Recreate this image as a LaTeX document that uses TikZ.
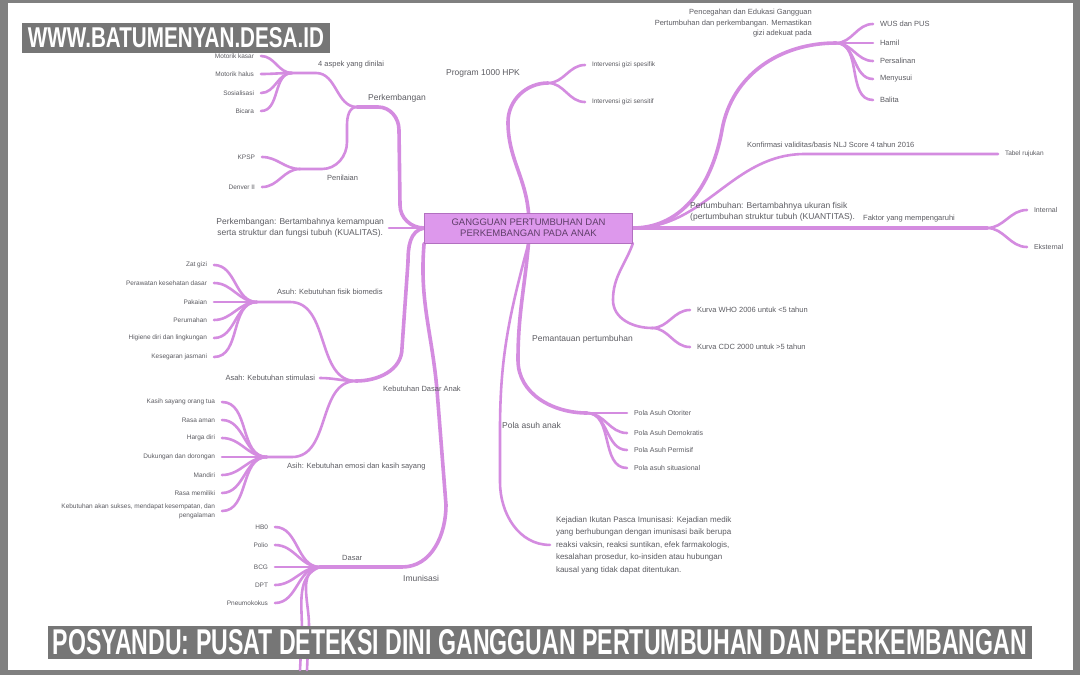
\documentclass[tikz,border=0pt]{standalone}
\usepackage{fontspec}
\setmainfont{Liberation Sans}
\usepackage{graphicx}
\pgfdeclarelayer{bg}
\pgfdeclarelayer{lines}
\pgfsetlayers{bg,lines,main}
\definecolor{lc}{RGB}{212,140,224}
\definecolor{boxc}{RGB}{221,152,236}
\definecolor{boxd}{RGB}{178,112,192}
\definecolor{tc}{RGB}{92,92,98}
\definecolor{rtc}{RGB}{95,62,105}
\definecolor{framegray}{RGB}{128,128,128}
\definecolor{bargray}{RGB}{118,118,118}
\newcommand{\fsz}[2]{\fontsize{#1}{#2}\selectfont}
\begin{document}
\begin{tikzpicture}[x=1pt,y=-1pt,
  ln/.style={draw=lc, line width=2.6pt, line cap=round},
  trunk/.style={draw=lc, line width=3.6pt, line cap=round},
  lbl/.style={text=tc, inner sep=0pt, font=\fsz{7.5}{10.5}},
  leaf/.style={text=tc, inner sep=0pt, outer xsep=7pt, font=\fsz{6.5}{9}},
  big/.style={text=tc, inner sep=0pt, font=\fsz{8.5}{11}},
  rootbox/.style={fill=boxc, draw=boxd, line width=0.8pt, minimum width=208pt,
    minimum height=30pt, align=center, inner sep=0pt, text=rtc, font=\fsz{9.5}{11}},
  bar/.style={fill=bargray, inner sep=0pt, text=white}]
\useasboundingbox (0,0) rectangle (1080,675);
\begin{pgfonlayer}{bg}
\fill[framegray] (0,0) rectangle (1080,675);
\fill[white] (8,3) rectangle (1073,670);
\end{pgfonlayer}

% root
\node[rootbox] (root) at (528.5,228) {GANGGUAN PERTUMBUHAN DAN\\PERKEMBANGAN PADA ANAK};

% ---------- left: Perkembangan
\coordinate (jPerk) at (357,107);
\coordinate (j4) at (292,73);
\coordinate (jPen) at (300,169);
\node[big, anchor=west] (perk) at (368,98) {Perkembangan};
\node[lbl, anchor=west] (asp) at (318,65) {4 aspek yang dinilai};
\node[lbl, anchor=west] (pen) at (327,178) {Penilaian};
\node[leaf, anchor=east] (m1) at (261,56) {Motorik kasar};
\node[leaf, anchor=east] (m2) at (261,74) {Motorik halus};
\node[leaf, anchor=east] (m3) at (261,93) {Sosialisasi};
\node[leaf, anchor=east] (m4) at (261,111) {Bicara};
\node[leaf, anchor=east] (p1) at (262,157) {KPSP};
\node[leaf, anchor=east] (p2) at (262,187) {Denver II};
\node[big, anchor=east, align=center, outer xsep=5pt] (pkdef) at (389,228)
  {Perkembangan: Bertambahnya kemampuan\\serta struktur dan fungsi tubuh (KUALITAS).};

% ---------- left: Kebutuhan Dasar Anak
\coordinate (jKD) at (356,381);
\coordinate (jAsuh) at (257,302);
\coordinate (jAsih) at (267,457);
\node[lbl, anchor=west] (kda) at (383,389) {Kebutuhan Dasar Anak};
\node[lbl, anchor=west] (asuh) at (277,292) {Asuh: Kebutuhan fisik biomedis};
\node[lbl, anchor=east, outer xsep=5pt] (asah) at (320,378) {Asah: Kebutuhan stimulasi};
\node[lbl, anchor=west] (asih) at (287,467) {Asih: Kebutuhan emosi dan kasih sayang};
\node[leaf, anchor=east] (a1) at (214,265) {Zat gizi};
\node[leaf, anchor=east] (a2) at (214,283) {Perawatan kesehatan dasar};
\node[leaf, anchor=east] (a3) at (214,302) {Pakaian};
\node[leaf, anchor=east] (a4) at (214,320) {Perumahan};
\node[leaf, anchor=east] (a5) at (214,338) {Higiene diri dan lingkungan};
\node[leaf, anchor=east] (a6) at (214,357) {Kesegaran jasmani};
\node[leaf, anchor=east] (s1) at (222,402) {Kasih sayang orang tua};
\node[leaf, anchor=east] (s2) at (222,420) {Rasa aman};
\node[leaf, anchor=east] (s3) at (222,438) {Harga diri};
\node[leaf, anchor=east] (s4) at (222,457) {Dukungan dan dorongan};
\node[leaf, anchor=east] (s5) at (222,475) {Mandiri};
\node[leaf, anchor=east] (s6) at (222,493) {Rasa memiliki};
\node[leaf, anchor=east, align=right] (s7) at (222,511)
  {Kebutuhan akan sukses, mendapat kesempatan, dan\\pengalaman};

% ---------- left: Imunisasi
\coordinate (jDas) at (320,567);
\node[big, anchor=west] (imu) at (403,578) {Imunisasi};
\node[lbl, anchor=west] (das) at (342,558) {Dasar};
\node[leaf, anchor=east] (d1) at (275,527) {HB0};
\node[leaf, anchor=east] (d2) at (275,545) {Polio};
\node[leaf, anchor=east] (d3) at (275,567) {BCG};
\node[leaf, anchor=east] (d4) at (275,585) {DPT};
\node[leaf, anchor=east] (d5) at (275,603) {Pneumokokus};
\coordinate (d6) at (307,670);
\coordinate (d7) at (300,670);

% ---------- right: Program 1000 HPK
\coordinate (jHPK) at (548,83);
\node[big, anchor=west] (hpk) at (446,73) {Program 1000 HPK};
\node[leaf, anchor=west] (h1) at (585,65) {Intervensi gizi spesifik};
\node[leaf, anchor=west] (h2) at (585,102) {Intervensi gizi sensitif};

% ---------- right: Pencegahan
\coordinate (jPE) at (836,43);
\node[lbl, anchor=east, align=right] (pe) at (812,23.5)
  {Pencegahan dan Edukasi Gangguan\\Pertumbuhan dan perkembangan. Memastikan\\gizi adekuat pada};
\node[leaf, anchor=west, font=\fsz{7.5}{9}] (e1) at (873,24) {WUS dan PUS};
\node[leaf, anchor=west, font=\fsz{7.5}{9}] (e2) at (873,43) {Hamil};
\node[leaf, anchor=west, font=\fsz{7.5}{9}] (e3) at (873,61) {Persalinan};
\node[leaf, anchor=west, font=\fsz{7.5}{9}] (e4) at (873,79) {Menyusui};
\node[leaf, anchor=west, font=\fsz{7.5}{9}] (e5) at (873,100) {Balita};

% ---------- right: Konfirmasi / Pertumbuhan
\node[lbl, anchor=west] (konf) at (747,145) {Konfirmasi validitas/basis NLJ Score 4 tahun 2016};
\node[leaf, anchor=west] (tab) at (998,154) {Tabel rujukan};
\coordinate (jFak) at (987,228);
\node[big, anchor=west, align=left] (pt) at (690,212)
  {Pertumbuhan: Bertambahnya ukuran fisik\\(pertumbuhan struktur tubuh (KUANTITAS).};
\node[lbl, anchor=west] (fak) at (863,219) {Faktor yang mempengaruhi};
\node[leaf, anchor=west, font=\fsz{7}{9}] (f1) at (1027,210) {Internal};
\node[leaf, anchor=west, font=\fsz{7}{9}] (f2) at (1027,247) {Eksternal};

% ---------- right: Pemantauan
\coordinate (jPem) at (652,328);
\node[big, anchor=west] (pem) at (532,339) {Pemantauan pertumbuhan};
\node[leaf, anchor=west, font=\fsz{7.5}{9}] (k1) at (690,310) {Kurva WHO 2006 untuk <5 tahun};
\node[leaf, anchor=west, font=\fsz{7.5}{9}] (k2) at (690,347) {Kurva CDC 2000 untuk >5 tahun};

% ---------- right: Pola asuh
\coordinate (jPola) at (587,413);
\node[big, anchor=west] (pola) at (502,425) {Pola asuh anak};
\node[leaf, anchor=west, font=\fsz{7}{9}] (o1) at (627,413) {Pola Asuh Otoriter};
\node[leaf, anchor=west, font=\fsz{7}{9}] (o2) at (627,433) {Pola Asuh Demokratis};
\node[leaf, anchor=west, font=\fsz{7}{9}] (o3) at (627,450) {Pola Asuh Permisif};
\node[leaf, anchor=west, font=\fsz{7}{9}] (o4) at (627,468) {Pola asuh situasional};

% ---------- KIPI
\node[lbl, anchor=north west, align=left, outer xsep=6pt, font=\fsz{8}{12.5}] (kipi) at (550,516)
  {Kejadian Ikutan Pasca Imunisasi: Kejadian medik\\yang berhubungan dengan imunisasi baik berupa\\reaksi vaksin, reaksi suntikan, efek farmakologis,\\kesalahan prosedur, ko-insiden atau hubungan\\kausal yang tidak dapat ditentukan.};

% ---------- banners
\node[bar, minimum width=308pt, minimum height=30pt] (wm) at (176,38)
  {\resizebox{296pt}{20pt}{\bfseries WWW.BATUMENYAN.DESA.ID}};
\node[bar, minimum width=984pt, minimum height=33pt] (title) at (540,642.5)
  {\resizebox{974pt}{25pt}{\bfseries POSYANDU: PUSAT DETEKSI DINI GANGGUAN PERTUMBUHAN DAN PERKEMBANGAN}};

% ================= connectors
\begin{pgfonlayer}{lines}
% Perkembangan
\draw[trunk] (jPerk) -- (378,107) to[out=0,in=90] (399,130) -- (400,205) to[out=270,in=180] (root.west);
\draw[ln] (j4) -- (316,73) to[out=0,in=180] (jPerk);
\draw[ln] (jPen) -- (322,169) to[out=0,in=270] (347,142) -- (347,125) to[out=90,in=180] (jPerk);
\foreach \n in {m1,m2,m3,m4} \draw[ln] (j4) to[out=180,in=0] (\n.east);
\foreach \n in {p1,p2} \draw[ln] (jPen) to[out=180,in=0] (\n.east);
\draw[ln] (pkdef.east) -- (root.west);
% Kebutuhan dasar
\draw[trunk] (root.west) to[out=190,in=90] (408,262) -- (402,348) to[out=270,in=0] (jKD);
\draw[ln] (jAsuh) -- (290,302) to[out=0,in=180] (jKD);
\draw[ln] (asah.east) to[out=0,in=180] (jKD);
\draw[ln] (jAsih) -- (292,457) to[out=0,in=180] (jKD);
\foreach \n in {a1,a2,a3,a4,a5,a6} \draw[ln] (jAsuh) to[out=180,in=0] (\n.east);
\foreach \n in {s1,s2,s3,s4,s5,s6,s7} \draw[ln] (jAsih) to[out=180,in=0] (\n.east);
% Imunisasi
\draw[trunk] (root.south west) to[out=265,in=95] (437,390) -- (446,505) to[out=270,in=0] (402,567) -- (jDas);
\foreach \n in {d1,d2,d3,d4,d5} \draw[ln] (jDas) to[out=180,in=0] (\n.east);
\draw[ln] (jDas) to[out=190,in=90] (309,625) -- (d6);
\draw[ln] (jDas) to[out=200,in=90] (302,630) -- (d7);
% Program 1000 HPK
\draw[trunk] (root.north) to[out=95,in=270] (508,122) to[out=90,in=180] (jHPK);
\foreach \n in {h1,h2} \draw[ln] (jHPK) to[out=0,in=180] (\n.west);
% Pencegahan
\draw[trunk] (root.east) to[out=0,in=260] (722,130) to[out=80,in=180] (jPE);
\foreach \n in {e1,e2,e3,e4,e5} \draw[ln] (jPE) to[out=0,in=180] (\n.west);
% Konfirmasi
\draw[ln] (root.east) to[out=0,in=180] (805,154) -- (tab.west);
% Pertumbuhan
\draw[trunk] (root.east) -- (jFak);
\foreach \n in {f1,f2} \draw[ln] (jFak) to[out=0,in=180] (\n.west);
% Pemantauan
\draw[ln] (root.south east) to[out=250,in=90] (613,300) to[out=270,in=180] (jPem);
\foreach \n in {k1,k2} \draw[ln] (jPem) to[out=0,in=180] (\n.west);
% Pola asuh
\draw[trunk] (root.south) to[out=265,in=90] (518,360) to[out=270,in=180] (jPola);
\foreach \n in {o1,o2,o3,o4} \draw[ln] (jPola) to[out=0,in=180] (\n.west);
% KIPI
\draw[ln] (root.south) to[out=255,in=90] (500,430) -- (500,482) to[out=270,in=180] (kipi.west);
\end{pgfonlayer}
\end{tikzpicture}
\end{document}
